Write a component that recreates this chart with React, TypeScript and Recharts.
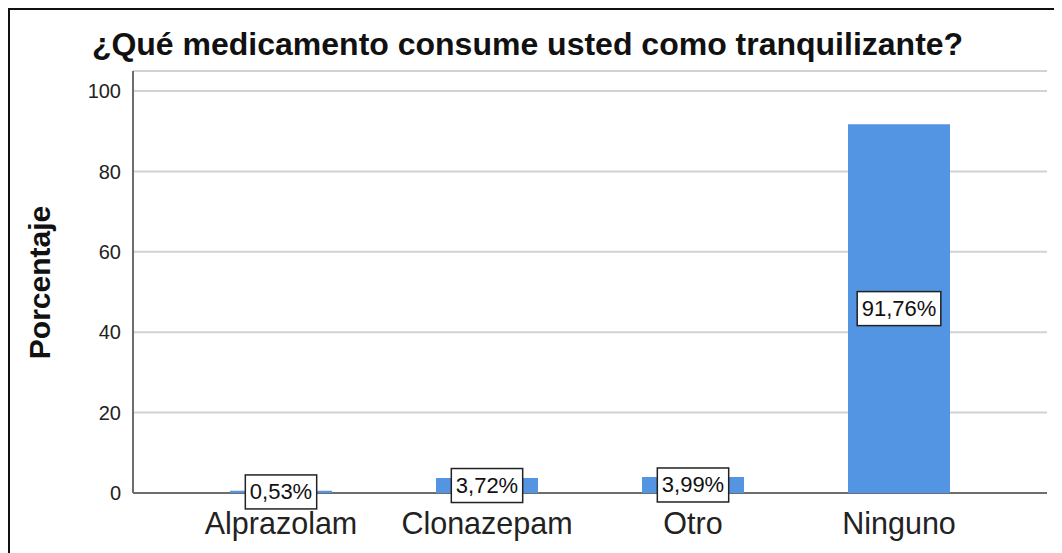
import React from 'react';
import { BarChart, Bar, XAxis, YAxis, CartesianGrid, LabelList } from 'recharts';

// Chart data
const categories = ['Alprazolam', 'Clonazepam', 'Otro', 'Ninguno'];
const percentages = [0.53, 3.72, 3.99, 91.76];
const yTicks = [0, 20, 40, 60, 80, 100];

const FONT = '"Liberation Sans", Arial, Helvetica, sans-serif';
const BAR_COLOR = '#5394E3';
const AXIS_COLOR = '#6e6e6e';
const GRID_COLOR = '#d2d2d2';

const CHART_H = 543;
const X_AXIS_H = 60;
const PLOT_BOTTOM = CHART_H - X_AXIS_H;

const data = categories.map((name, i) => ({ name, value: percentages[i] }));

const fmt = (v: number) => v.toFixed(2).replace('.', ',') + '%';

// rough Arial width for the percent labels
const textWidth = (s: string, size: number) => {
  let w = 0;
  for (const ch of s) {
    if (ch === ',') w += 0.278;
    else if (ch === '%') w += 0.889;
    else w += 0.556;
  }
  return w * size;
};

const BoxLabel = (props: any) => {
  const { x, y, width, height, value } = props;
  const text = fmt(Number(value));
  const size = 22;
  const w = textWidth(text, size) + 9;
  const h = 34;
  const cx = x + width / 2;
  const cy = y + height / 2;
  return (
    <g>
      <rect x={cx - w / 2} y={cy - h / 2} width={w} height={h} fill="#fff" stroke="#222" strokeWidth={1.5} />
      <text x={cx} y={cy} textAnchor="middle" dominantBaseline="central" fontSize={size} fontFamily={FONT} fill="#111">
        {text}
      </text>
    </g>
  );
};

const YTitle = (props: any) => {
  const { viewBox } = props;
  const cx = viewBox.x + 40;
  const cy = 272.5;
  return (
    <text
      x={cx}
      y={cy}
      transform={`rotate(-90, ${cx}, ${cy})`}
      textAnchor="middle"
      fontSize={30}
      fontWeight="bold"
      fontFamily={FONT}
      fill="#111"
    >
      Porcentaje
    </text>
  );
};

// grid line at 0 doubles as the x axis line, so the bars sit on top of it
const GridLine = (p: any) => {
  const isBase = Math.abs(p.y1 - PLOT_BOTTOM) < 1;
  return (
    <line
      x1={p.x1}
      y1={p.y1}
      x2={p.x2}
      y2={p.y2}
      stroke={isBase ? AXIS_COLOR : GRID_COLOR}
      strokeWidth={2}
    />
  );
};

export default function App() {
  return (
    <div
      style={{
        position: 'relative',
        width: 1052,
        height: CHART_H,
        borderTop: '2px solid #111',
        borderLeft: '2px solid #111',
        background: '#fff',
        fontFamily: FONT,
      }}
    >
      <style>{'html,body{overflow:hidden;background:#fff}'}</style>
      <BarChart width={1052} height={CHART_H} data={data} margin={{ top: 61, right: 15, left: 0, bottom: 0 }}>
        <CartesianGrid vertical={false} horizontal={GridLine} />
        <XAxis
          dataKey="name"
          height={X_AXIS_H}
          padding={{ left: 45, right: 45 }}
          axisLine={false}
          tickLine={false}
          tickMargin={13}
          tick={{ fontSize: 30.5, fill: '#222', fontFamily: FONT }}
        />
        <YAxis
          width={123}
          domain={[0, 105]}
          ticks={yTicks}
          axisLine={{ stroke: AXIS_COLOR, strokeWidth: 2 }}
          tickLine={false}
          tickMargin={6}
          tick={{ fontSize: 20, fill: '#222', fontFamily: FONT }}
          label={<YTitle />}
        />
        <Bar dataKey="value" fill={BAR_COLOR} barSize={102} isAnimationActive={false}>
          <LabelList dataKey="value" content={<BoxLabel />} />
        </Bar>
      </BarChart>
      <div
        style={{
          position: 'absolute',
          left: 0,
          top: 17.9,
          width: 1035,
          textAlign: 'center',
          fontSize: 32,
          lineHeight: '32px',
          fontWeight: 'bold',
          color: '#111',
          whiteSpace: 'nowrap',
        }}
      >
        ¿Qué medicamento consume usted como tranquilizante?
      </div>
    </div>
  );
}
